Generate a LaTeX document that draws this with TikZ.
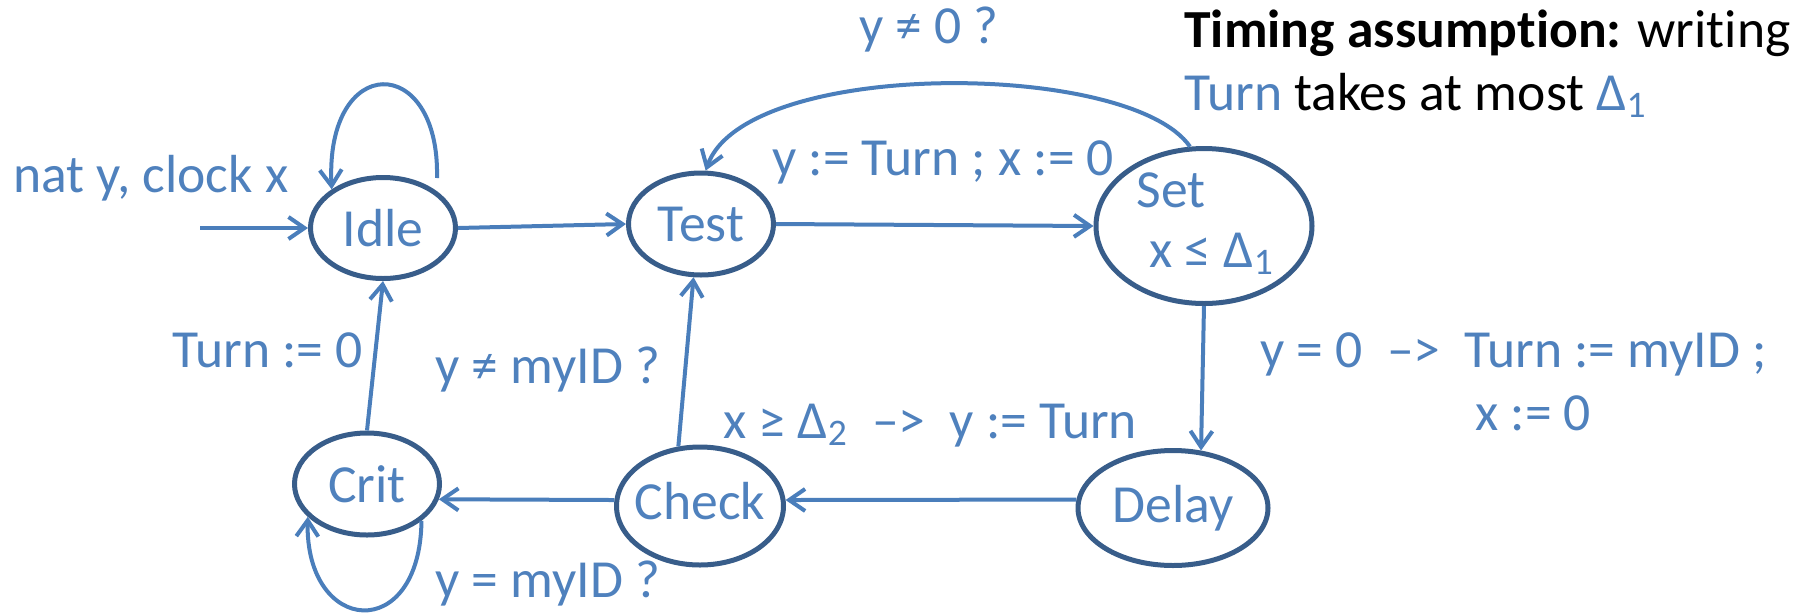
\documentclass[tikz,border=0pt]{standalone}
\usepackage{fontspec}
\setmainfont{Carlito}[Ligatures=NoCommon]
\usetikzlibrary{arrows.meta,shapes.geometric}
\definecolor{txtblue}{HTML}{4F81BD}
\definecolor{lineblue}{HTML}{4A7EBB}
\definecolor{rimblue}{HTML}{385D8A}
\begin{document}
\begin{tikzpicture}[x=0.5pt,y=-0.5pt,
  every node/.style={font=\fontsize{26.8}{32}\selectfont},
  state/.style={ellipse, draw=rimblue, line width=2.5pt, inner sep=0pt, text=txtblue},
  lbl/.style={anchor=base west, inner sep=0pt, text=txtblue},
  arr/.style={draw=lineblue, line width=2pt, -{Straight Barb[length=8pt,width=11pt]}}]
\useasboundingbox (0,0) rectangle (1796,612);

% locations
\node[state, minimum width=72.5pt, minimum height=50.5pt] (idle) at (383,228) {Idle};
\node[state, minimum width=72.5pt, minimum height=51pt] (test) at (701,224) {Test};
\node[state, minimum width=108pt, minimum height=77.5pt] (set) at (1204,226) {};
\node[state, minimum width=95pt, minimum height=57.5pt] (delay) at (1173,508) {Delay};
\node[state, minimum width=83.5pt, minimum height=59pt] (check) at (700,506) {\makebox[40pt]{\raisebox{5pt}{Check}}};
\node[state, minimum width=72.5pt, minimum height=51pt] (crit) at (367,484) {Crit};

\node[lbl] (settitle) at (1136,207) {Set};
\node[lbl] (setinv) at (1149,267) {x ≤ Δ\textsubscript{1}};

% transitions
\coordinate (init) at (200,228);
\draw[arr] (init) -- (idle);
\draw[arr] (idle.east) -- (test.west);
\draw[arr] (test.east) -- (set.west);
\draw[arr] (set.south) -- (delay.64);
\draw[arr] (delay.175) -- (check.4);
\draw[arr] (check.176) -- (crit.-12);
\draw[arr] (check.110) -- (test.262);
\draw[arr] (crit.north) -- (idle.south);
\coordinate (idleloop) at (437,178);
\draw[arr] (idleloop) .. controls (440,52) and (325,52) .. (idle.143);
\draw[arr] (set.100) .. controls (1130,60) and (745,58) .. (test.85);
\draw[arr] (crit.-34) .. controls (420,645) and (305,635) .. (crit.209);

% labels
\node[lbl] (decl) at (13,192) {nat y, clock x};
\node[lbl] (g1) at (859,43) {y ≠ 0 ?};
\node[lbl, text=black] (timing) at (1184,47) {\textbf{Timing assumption:} writing};
\node[lbl, text=black] (timing2) at (1184,110) {\textcolor{txtblue}{Turn} takes at most \textcolor{txtblue}{Δ\textsubscript{1}}};
\node[lbl] (a1) at (772,175) {y := Turn ; x := 0};
\node[lbl] (a2) at (172,367) {Turn := 0};
\node[lbl] (g2) at (435,383) {y ≠ myID ?};
\node[lbl] (a3) at (723,438) {x ≥ Δ\textsubscript{2} \ –> \ y := Turn};
\node[lbl] (a4) at (1260,367) {y = 0 \ –> \ Turn := myID ;};
\node[lbl] (a5) at (1475,430) {x := 0};
\node[lbl] (g3) at (435,597) {y = myID ?};
\end{tikzpicture}
\end{document}
